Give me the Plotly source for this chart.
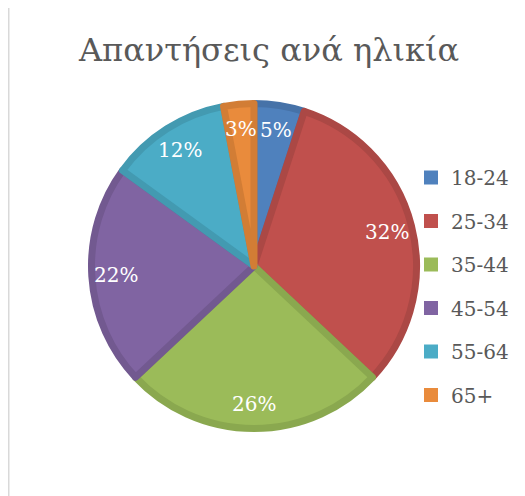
import math
import plotly.graph_objects as go

title_text = "Απαντήσεις ανά ηλικία"
categories = ["18-24", "25-34", "35-44", "45-54", "55-64", "65+"]
values = [5, 32, 26, 22, 12, 3]
fill_colors = ["#4F81BD", "#C0504D", "#9BBB59", "#8064A2", "#4BACC6", "#E98B3C"]
edge_colors = ["#4672A8", "#AB4845", "#8AA84F", "#725990", "#439AB1", "#D27D35"]

# the page body adds an 8px margin, so the figure is drawn 8px in from the window edge
W, H = 517, 488
FONT = "DejaVu Serif"

fig = go.Figure()

# pie geometry in figure pixels
cx, cy, r = 246, 258, 162.5
fig.add_trace(go.Pie(
    labels=categories,
    values=values,
    sort=False,
    direction="clockwise",
    rotation=0,
    marker=dict(colors=fill_colors, line=dict(color=edge_colors, width=7)),
    textinfo="none",
    showlegend=False,
    hoverinfo="label+percent",
    domain=dict(x=[(cx - r) / W, (cx + r) / W], y=[1 - (cy + r) / H, 1 - (cy - r) / H]),
))

# data labels placed Excel-style near the outer end of each slice (derived from the values)
total = sum(values)
label_annotations = []
cum = 0.0
label_frac = 0.83
for v in values:
    mid = (cum + v / 2) / total * 2 * math.pi
    cum += v
    px = cx + label_frac * (r + 3.5) * math.sin(mid)
    py = cy - label_frac * (r + 3.5) * math.cos(mid)
    label_annotations.append(dict(
        text=f"{round(100 * v / total)}%", x=px / W, y=1 - py / H,
        xref="paper", yref="paper", xanchor="center", yanchor="middle",
        showarrow=False, font=dict(family=FONT, size=20, color="white"),
    ))

# legend entries (one per category, separate groups for Excel-like spacing)
for name, col in zip(categories, fill_colors):
    fig.add_trace(go.Scatter(
        x=[None], y=[None], mode="markers", name=name, legendgroup=name,
        marker=dict(symbol="square", size=14, color=col),
        hoverinfo="skip",
    ))

fig.update_layout(
    width=W, height=H,
    margin=dict(l=0, r=0, t=0, b=0),
    paper_bgcolor="white", plot_bgcolor="white",
    xaxis=dict(visible=False), yaxis=dict(visible=False),
    showlegend=True,
    legend=dict(
        x=403 / W, y=1 - 150 / H, xanchor="left", yanchor="top",
        font=dict(family=FONT, size=20, color="#595959"),
        tracegroupgap=14.5, bgcolor="rgba(0,0,0,0)",
    ),
    annotations=[dict(
        text=title_text, x=260 / W, y=1 - 42 / H, xref="paper", yref="paper",
        xanchor="center", yanchor="middle", showarrow=False,
        font=dict(family=FONT, size=32, color="#595959"),
    )] + label_annotations,
    shapes=[
        dict(type="line", xref="paper", yref="paper", x0=0, x1=0, y0=0, y1=1,
             line=dict(color="#D9D9D9", width=3)),
    ],
)

fig.write_html("out.html")
